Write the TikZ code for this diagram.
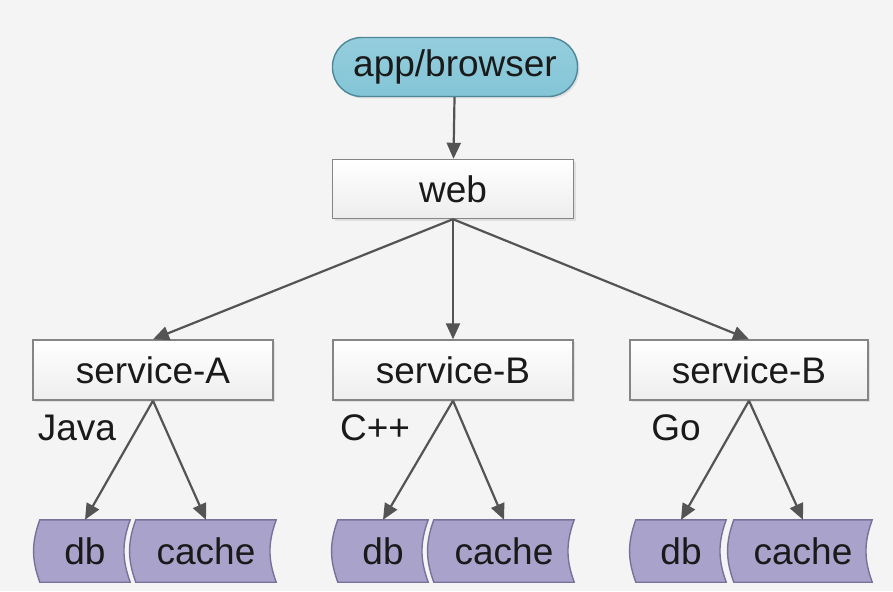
\documentclass[tikz,border=0pt]{standalone}
\usepackage{fontspec}
\setmainfont{Liberation Sans}
\usetikzlibrary{arrows.meta, backgrounds, shadows}
\definecolor{svbg}{HTML}{F4F4F4}
\definecolor{svline}{HTML}{858585}
\definecolor{svarrow}{HTML}{545454}
\definecolor{svtext}{HTML}{1A1A1A}
\definecolor{svblue}{HTML}{82C5D7}
\definecolor{svbluedk}{HTML}{4E8799}
\definecolor{svlilac}{HTML}{A9A3CC}
\definecolor{svlilacdk}{HTML}{76729A}

\begin{document}
\begin{tikzpicture}[x=1pt, y=-1pt, font=\fontsize{37}{40}\selectfont, text=svtext,
          box/.style={draw=svline, line width=1.4pt, top color=white, bottom color=gray!14,
                      minimum width=240pt, minimum height=60pt, inner sep=0pt,
                      drop shadow={opacity=.18, shadow xshift=2pt, shadow yshift=-2pt}},
          pill/.style={box, top color=svblue!85, bottom color=svblue, draw=svbluedk, rounded corners=29pt},
          tapebox/.style={minimum height=62pt, inner sep=0pt},
          tapeline/.style={draw=svlilacdk, line width=1.4pt, fill=svlilac},
          link/.style={-{Triangle[length=16pt, width=14pt]}, svarrow, line width=2.2pt}]
  \useasboundingbox (0,0) rectangle (893,591);
  % top: client and web tier
  \node[pill, minimum width=245pt, minimum height=59pt] (app) at (455,67) {app/browser};
  \node[box, minimum width=241pt, minimum height=59pt] (web) at (453,189) {web};
  % services
  \node[box] (svA) at (153,370) {service-A};
  \node[box] (svB) at (453,370) {service-B};
  \node[box, minimum width=238pt] (svC) at (749,370) {service-B};
  \node (javaL) at (77,428) {Java};
  \node (cppL) at (375,428) {C++};
  \node (goL) at (676,428) {Go};
  % storage
  \node[tapebox, minimum width=90pt] (dbA) at (85,551) {db};
  \node[tapebox, minimum width=140pt] (chA) at (206,551) {cache};
  \node[tapebox, minimum width=90pt] (dbB) at (383,551) {db};
  \node[tapebox, minimum width=140pt] (chB) at (504,551) {cache};
  \node[tapebox, minimum width=90pt] (dbC) at (681,551) {db};
  \node[tapebox, minimum width=138pt] (chC) at (803,551) {cache};
  \begin{scope}[on background layer]
    \fill[svbg] (0,0) rectangle (893,591);
    \foreach \n in {dbA,chA,dbB,chB,dbC,chC}
      \draw[tapeline] (\n.north west) to[bend right=20] (\n.south west) -- (\n.south east)
                      to[bend left=20] (\n.north east) -- cycle;
  \end{scope}
  % connectors
  \draw[link] (app) -- (web);
  \foreach \s in {svA,svB,svC}
    \draw[link] (web.south) -- (\s.north);
  \draw[link] (svA.south) -- (dbA.north);
  \draw[link] (svA.south) -- (chA.north);
  \draw[link] (svB.south) -- (dbB.north);
  \draw[link] (svB.south) -- (chB.north);
  \draw[link] (svC.south) -- (dbC.north);
  \draw[link] (svC.south) -- (chC.north);
\end{tikzpicture}
\end{document}
